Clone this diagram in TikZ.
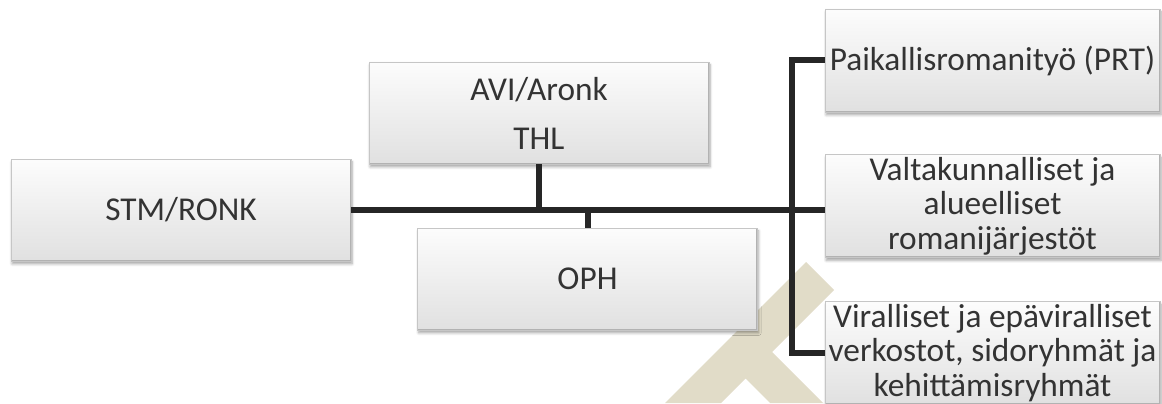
\documentclass[tikz,border=0pt]{standalone}
\usepackage{fontspec}
\setmainfont{Carlito}
\usetikzlibrary{shadows.blur}
\definecolor{lijn}{HTML}{262626}
\definecolor{tekst}{HTML}{333333}
\definecolor{merkki}{RGB}{225,220,200}

\begin{document}
\begin{tikzpicture}[x=0.75pt,y=0.75pt,-,auto]
\tikzstyle{unit}=[rectangle,minimum width=255pt,minimum height=76.5pt,inner sep=0pt,top color=gray!2,bottom color=gray!24,draw=gray!45,line width=0.4pt,text=tekst,align=center,font=\fontsize{25}{26}\selectfont,blur shadow={shadow xshift=0.8pt,shadow yshift=-2.2pt,shadow blur steps=6,shadow opacity=35},path picture={\draw[gray!60,line width=2pt] (path picture bounding box.south west) -- (path picture bounding box.south east) -- (path picture bounding box.north east);}]
\tikzstyle{side}=[unit,minimum width=251.25pt,minimum height=77.25pt]
\tikzstyle{link}=[draw=lijn,line width=4.5pt]
\useasboundingbox (0,0) rectangle (1162,-403);
% tausta
\fill [merkki] (665,-403) -- (806,-262) -- (834,-290) -- (772,-352) -- (823,-403) -- (770,-403) -- (745.5,-378.5) -- (721,-403) -- cycle;
\node [unit] (0) at(181,-210) {STM/RONK};
\node [unit] (1) at(539,-113) {AVI/Aronk\\[10.75pt]THL};
\node [unit] (2) at(587.5,-279) {OPH};
\node [side] (3) at(992.5,-60.5) {Paikallisromanityö (PRT)};
\node [side] (4) at(992.5,-206) {Valtakunnalliset ja\\alueelliset\\romanijärjestöt};
\node [side] (5) at(992.5,-353) {Viralliset ja epäviralliset\\verkostot, sidoryhmät ja\\kehittämisryhmät};
\coordinate (6) at(792,-210);
\path [link] (0.east) edge (6);
\path [link] (6) edge (6 -| 4.west);
\path [link] (1.south) edge (1.south |- 6);
\path [link] (2.north) edge (2.north |- 6);
\draw [link] (3.west) -| (6) |- (5.west);
\end{tikzpicture}
\end{document}
